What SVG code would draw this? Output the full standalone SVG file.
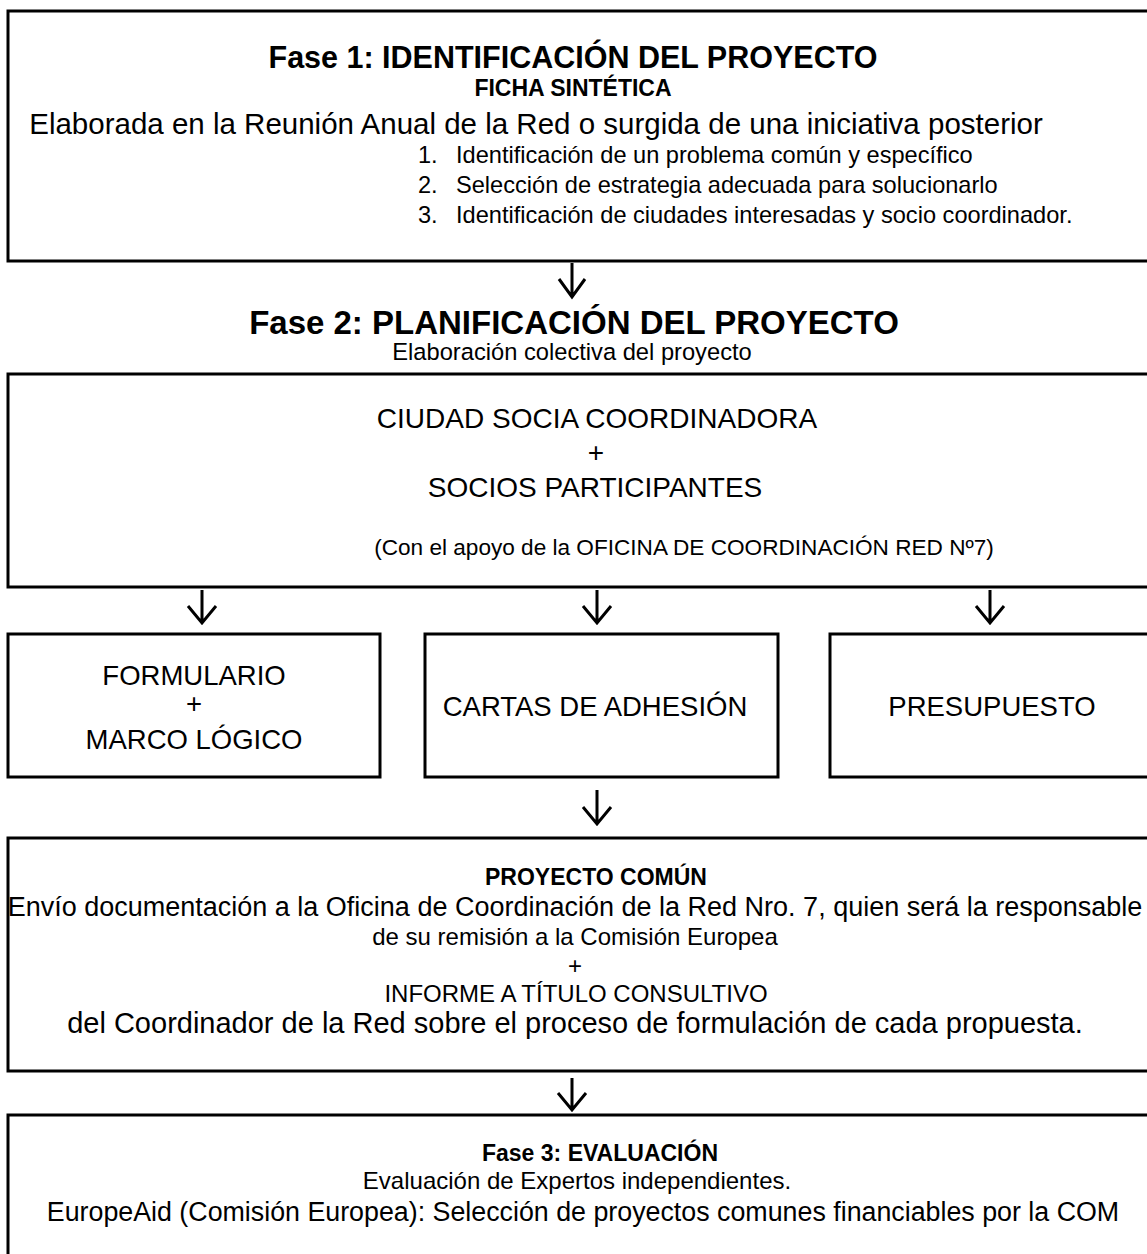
<svg xmlns="http://www.w3.org/2000/svg" width="1147" height="1254" viewBox="0 0 1147 1254">
<style>
text{font-family:"Liberation Sans",Arial,sans-serif;fill:#000;}
.t{font-size:26px;text-anchor:middle;}
.b{font-weight:bold;}
.li{font-size:23.6px;}
.box{fill:none;stroke:#000;stroke-width:3;}
.arr{fill:none;stroke:#000;stroke-width:3;}
</style>
<rect width="1147" height="1254" fill="#fff"/>
<g id="fase1">
<rect class="box" x="8" y="11" width="1150" height="250"/>
<text class="t b" x="573" y="68" style="font-size:30.5px">Fase 1: IDENTIFICACIÓN DEL PROYECTO</text>
<text class="t b" x="573" y="96" style="font-size:23px">FICHA SINTÉTICA</text>
<text class="t" x="536" y="134" style="font-size:29.5px">Elaborada en la Reunión Anual de la Red o surgida de una iniciativa posterior</text>
<text class="li" x="418" y="163">1.</text>
<text class="li" x="456" y="163">Identificación de un problema común y específico</text>
<text class="li" x="418" y="193">2.</text>
<text class="li" x="456" y="193">Selección de estrategia adecuada para solucionarlo</text>
<text class="li" x="418" y="223">3.</text>
<text class="li" x="456" y="223">Identificación de ciudades interesadas y socio coordinador.</text>
</g>
<g id="fase2-title">
<text class="t b" x="574" y="334" style="font-size:33px">Fase 2: PLANIFICACIÓN DEL PROYECTO</text>
<text class="t" x="572" y="360" style="font-size:23.7px">Elaboración colectiva del proyecto</text>
</g>
<g id="socios">
<rect class="box" x="8" y="374" width="1150" height="213"/>
<text class="t" x="597" y="428" style="font-size:28px">CIUDAD SOCIA COORDINADORA</text>
<text class="t" x="596" y="462" style="font-size:28px">+</text>
<text class="t" x="595" y="497" style="font-size:28px">SOCIOS PARTICIPANTES</text>
<text class="t" x="684" y="555" style="font-size:22.6px">(Con el apoyo de la OFICINA DE COORDINACIÓN RED Nº7)</text>
</g>
<g id="formulario">
<rect class="box" x="8" y="634" width="372" height="143"/>
<text class="t" x="194" y="685" style="font-size:27.5px">FORMULARIO</text>
<text class="t" x="194" y="713" style="font-size:27.5px">+</text>
<text class="t" x="194" y="749" style="font-size:27.5px">MARCO LÓGICO</text>
</g>
<g id="cartas">
<rect class="box" x="425" y="634" width="353" height="143"/>
<text class="t" x="595" y="716" style="font-size:27.5px">CARTAS DE ADHESIÓN</text>
</g>
<g id="presupuesto">
<rect class="box" x="830" y="634" width="330" height="143"/>
<text class="t" x="992" y="716" style="font-size:27.5px">PRESUPUESTO</text>
</g>
<g id="proyecto-comun">
<rect class="box" x="8" y="838" width="1150" height="233"/>
<text class="t b" x="596" y="885" style="font-size:23px">PROYECTO COMÚN</text>
<text class="t" x="575" y="916" style="font-size:27px">Envío documentación a la Oficina de Coordinación de la Red Nro. 7, quien será la responsable</text>
<text class="t" x="575" y="945" style="font-size:24px">de su remisión a la Comisión Europea</text>
<text class="t" x="575" y="974" style="font-size:24px">+</text>
<text class="t" x="576" y="1002" style="font-size:24px">INFORME A TÍTULO CONSULTIVO</text>
<text class="t" x="575" y="1033" style="font-size:29px">del Coordinador de la Red sobre el proceso de formulación de cada propuesta.</text>
</g>
<g id="fase3">
<rect class="box" x="8" y="1115" width="1150" height="160"/>
<text class="t b" x="600" y="1161" style="font-size:23px">Fase 3: EVALUACIÓN</text>
<text class="t" x="577" y="1189" style="font-size:24px">Evaluación de Expertos independientes.</text>
<text class="t" x="583" y="1221" style="font-size:26.8px">EuropeAid (Comisión Europea):  Selección de proyectos comunes financiables por la COM</text>
</g>
<g id="connectors">
<path class="arr" d="M572,263 V297 M559,279 L572,297 L585,279"/>
<path class="arr" d="M202,590 V623 M188,606 L202,623 L216,606"/>
<path class="arr" d="M597,590 V623 M583,606 L597,623 L611,606"/>
<path class="arr" d="M990,590 V623 M976,606 L990,623 L1004,606"/>
<path class="arr" d="M597,790 V824 M583,807 L597,824 L611,807"/>
<path class="arr" d="M572,1078 V1110 M558,1093 L572,1110 L586,1093"/>
</g>
</svg>
